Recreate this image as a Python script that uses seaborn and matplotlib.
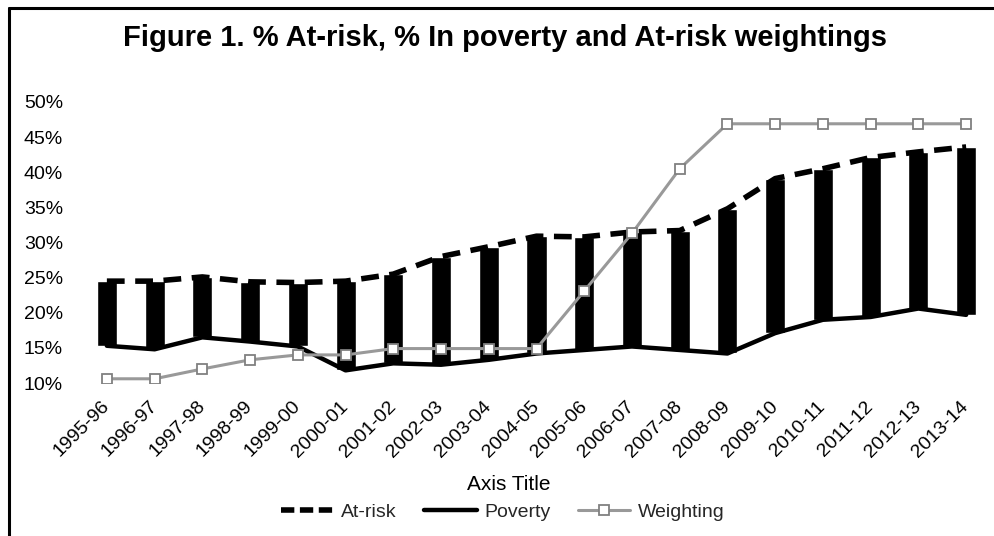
import seaborn as sns
import pandas as pd
import matplotlib.pyplot as plt
from matplotlib.lines import Line2D
from matplotlib.ticker import FuncFormatter

years = ['1995-96', '1996-97', '1997-98', '1998-99', '1999-00', '2000-01', '2001-02',
         '2002-03', '2003-04', '2004-05', '2005-06', '2006-07', '2007-08', '2008-09',
         '2009-10', '2010-11', '2011-12', '2012-13', '2013-14']
at_risk = [24.5, 24.5, 25.1, 24.4, 24.3, 24.5, 25.5, 28.0, 29.4, 30.9, 30.8, 31.5,
           31.7, 34.8, 39.1, 40.5, 42.1, 42.9, 43.6]
poverty = [15.3, 14.8, 16.5, 15.9, 15.2, 11.8, 12.8, 12.6, 13.3, 14.2, 14.7, 15.2,
           14.7, 14.2, 17.1, 19.0, 19.4, 20.6, 19.7]
weighting = [10.6, 10.6, 12.0, 13.3, 14.0, 14.0, 14.9, 14.9, 14.9, 14.9, 23.1, 31.3,
             40.5, 46.9, 46.9, 46.9, 46.9, 46.9, 46.9]
yticks = [10, 15, 20, 25, 30, 35, 40, 45, 50]

df = pd.DataFrame({'year': years, 'at_risk': at_risk, 'poverty': poverty, 'weighting': weighting})

sns.set_theme(style='white')
plt.rcParams['font.family'] = ['Liberation Sans', 'DejaVu Sans']

fig = plt.figure(figsize=(9.94, 5.36), dpi=100)
ax = fig.add_axes([83 / 994, (536 - 383) / 536, (990 - 83) / 994, (383 - 102) / 536])

# up-down bars between poverty and at-risk
ax.bar(df['year'], df['at_risk'] - df['poverty'], bottom=df['poverty'], width=0.42,
       color='black', zorder=1)

sns.lineplot(data=df, x='year', y='poverty', ax=ax, color='black', lw=3.2,
             sort=False, zorder=2, label='Poverty')
sns.lineplot(data=df, x='year', y='at_risk', ax=ax, color='black', lw=4,
             sort=False, zorder=3, label='At-risk')
ax.lines[-1].set_dashes((3.2, 1.9))
sns.lineplot(data=df, x='year', y='weighting', ax=ax, color='#999999', lw=2.2,
             marker='s', markersize=7, markerfacecolor='white', markeredgecolor='#808080',
             markeredgewidth=1.3, sort=False, zorder=4, label='Weighting')

ax.set_xlim(-0.5, len(years) - 0.5)
ax.set_ylim(10, 50)
ax.set_yticks(yticks)
ax.yaxis.set_major_formatter(FuncFormatter(lambda v, p: f'{v:.0f}%'))
ax.set_xlabel('')
ax.set_ylabel('')
for s in ax.spines.values():
    s.set_visible(False)
ax.tick_params(axis='y', length=0, pad=14.4, labelsize=14, labelcolor='black')
ax.tick_params(axis='x', length=0, pad=15, labelsize=14, labelcolor='black')
plt.setp(ax.get_xticklabels(), rotation=45, ha='right', va='center', rotation_mode='anchor')

fig.text(505 / 994, 1 - 38 / 536, 'Figure 1. % At-risk, % In poverty and At-risk weightings',
         ha='center', va='center', fontsize=21, fontweight='bold', color='black')
fig.text(509 / 994, 1 - 485 / 536, 'Axis Title', ha='center', va='center', fontsize=15, color='black')

handles = [
    Line2D([], [], color='black', lw=4, dashes=(2.4, 1.0)),
    Line2D([], [], color='black', lw=3.2),
    Line2D([], [], color='#999999', lw=2.2, marker='s', markersize=7,
           markerfacecolor='white', markeredgecolor='#808080', markeredgewidth=1.3),
]
ax.legend(handles, ['At-risk', 'Poverty', 'Weighting'], ncol=3, frameon=False,
          loc='center', bbox_to_anchor=(503 / 994, 1 - 512 / 536),
          bbox_transform=fig.transFigure, fontsize=14, handlelength=2.7,
          handletextpad=0.4, columnspacing=1.4)

# chart frame (top and left edges visible in the scan)
fig.add_artist(Line2D([9 / 994, 9 / 994], [0, 1 - 8 / 536], transform=fig.transFigure,
                      color='black', lw=2.2))
fig.add_artist(Line2D([9 / 994, 1], [1 - 8 / 536, 1 - 8 / 536], transform=fig.transFigure,
                      color='black', lw=2.2))

fig.savefig('out.png', dpi=100)
